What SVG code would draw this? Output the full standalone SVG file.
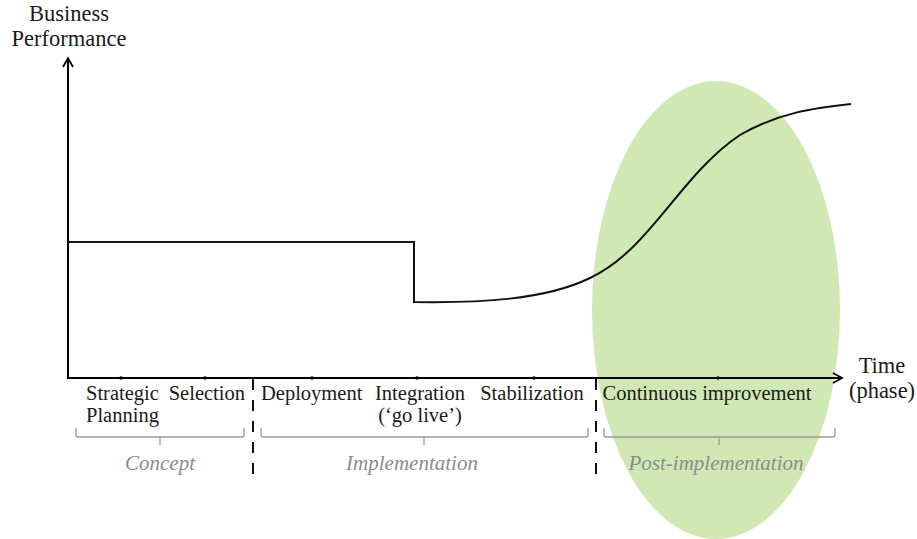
<svg xmlns="http://www.w3.org/2000/svg" width="917" height="539" viewBox="0 0 917 539">
  <defs>
    <marker id="arrow" viewBox="0 0 12 12" refX="10" refY="6" markerWidth="12" markerHeight="12" markerUnits="userSpaceOnUse" orient="auto">
      <path d="M1,1 L10,6 L1,11" fill="none" stroke="#000" stroke-width="1.8"/>
    </marker>
  </defs>
  <style>
    text { font-family: "Liberation Serif", "DejaVu Serif", serif; font-size: 20.5px; fill: #1a1a1a; }
    .title { font-size: 22.5px; }
    .phase { font-style: italic; fill: #8c8c8c; font-size: 21px; }
    .axis { stroke: #000; stroke-width: 2; fill: none; }
    .curve { stroke: #111; stroke-width: 2; fill: none; }
    .divider { stroke: #111; stroke-width: 2; stroke-dasharray: 11 10; fill: none; }
    .brace { stroke: #9a9a9a; stroke-width: 1.3; fill: none; }
    .tick { fill: #000; }
  </style>

  <!-- post-implementation focus area -->
  <g id="focus-area">
    <ellipse cx="716" cy="310" rx="124" ry="229" fill="#cfe8b4"/>
  </g>

  <!-- performance curve -->
  <g id="performance-curve">
    <path class="curve" d="M68,242 H414 V302 C480,303 545,300 590,278 C650,250 680,175 740,135 C780,112 815,108 851,104"/>
  </g>

  <!-- axes -->
  <g id="axes">
    <line class="axis" x1="68" y1="378" x2="68" y2="58" marker-end="url(#arrow)"/>
    <line class="axis" x1="67" y1="378" x2="842" y2="378" marker-end="url(#arrow)"/>
    <circle class="tick" cx="121" cy="378" r="1.8"/>
    <circle class="tick" cx="205" cy="378" r="1.8"/>
    <circle class="tick" cx="312" cy="378" r="1.8"/>
    <circle class="tick" cx="417" cy="378" r="1.8"/>
    <circle class="tick" cx="534" cy="378" r="1.8"/>
    <circle class="tick" cx="718" cy="378" r="1.8"/>
    <text class="title" x="69" y="21" text-anchor="middle">Business</text>
    <text class="title" x="69" y="46" text-anchor="middle">Performance</text>
    <text class="title" x="882" y="373" text-anchor="middle">Time</text>
    <text class="title" x="882" y="398" text-anchor="middle">(phase)</text>
  </g>

  <!-- phase dividers -->
  <g id="dividers">
    <line class="divider" x1="253" y1="379" x2="253" y2="478"/>
    <line class="divider" x1="596" y1="379" x2="596" y2="478"/>
  </g>

  <!-- phase braces -->
  <g id="braces">
    <path class="brace" d="M76,428 V435 Q76,437 78,437 H242 Q244,437 244,435 V428 M160,437 V445"/>
    <path class="brace" d="M261,428 V435 Q261,437 263,437 H586 Q588,437 588,435 V428 M424,437 V445"/>
    <path class="brace" d="M604,428 V435 Q604,437 606,437 H833 Q835,437 835,435 V428 M719,437 V445"/>
  </g>

  <!-- stage labels -->
  <g id="stage-strategic-planning">
    <text x="86" y="400">Strategic</text>
    <text x="86" y="422">Planning</text>
  </g>
  <g id="stage-selection">
    <text x="245" y="400" text-anchor="end">Selection</text>
  </g>
  <g id="stage-deployment">
    <text x="261" y="400">Deployment</text>
  </g>
  <g id="stage-integration">
    <text x="420" y="400" text-anchor="middle">Integration</text>
    <text x="420" y="422" text-anchor="middle">(‘go live’)</text>
  </g>
  <g id="stage-stabilization">
    <text x="532" y="400" text-anchor="middle">Stabilization</text>
  </g>
  <g id="stage-continuous-improvement">
    <text x="707" y="400" text-anchor="middle">Continuous improvement</text>
  </g>

  <!-- phase names -->
  <g id="phase-concept">
    <text class="phase" x="160" y="470" text-anchor="middle">Concept</text>
  </g>
  <g id="phase-implementation">
    <text class="phase" x="412" y="470" text-anchor="middle">Implementation</text>
  </g>
  <g id="phase-post-implementation">
    <text class="phase" x="716" y="470" text-anchor="middle">Post-implementation</text>
  </g>
</svg>
